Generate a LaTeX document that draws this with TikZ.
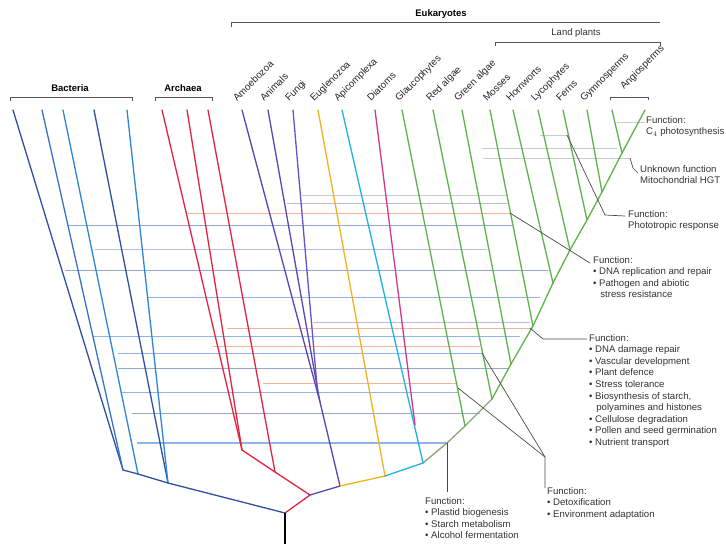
\documentclass[tikz,border=0pt]{standalone}
\usepackage{fontspec}
\setmainfont{Liberation Sans}
\definecolor{bA}{HTML}{2D4FA6}
\definecolor{bB}{HTML}{3573C8}
\definecolor{bC}{HTML}{2E86D6}
\definecolor{rd}{HTML}{E3233F}
\definecolor{pu}{HTML}{5A45B2}
\definecolor{puB}{HTML}{6A4FD0}
\definecolor{yl}{HTML}{F1B21F}
\definecolor{cy}{HTML}{1FB1E5}
\definecolor{mg}{HTML}{D2348E}
\definecolor{gr}{HTML}{5BB447}
\definecolor{grg}{HTML}{86A57A}
\definecolor{hsal}{HTML}{F4B49A}
\definecolor{hblu}{HTML}{8DB6E6}
\definecolor{hgb}{HTML}{95A7CA}
\definecolor{hlav}{HTML}{BDB8E6}
\definecolor{hgr}{HTML}{C9CCCF}
\definecolor{ptrc}{HTML}{4A4A4A}
\definecolor{txt}{HTML}{333333}
\definecolor{brkc}{HTML}{555555}
\begin{document}
\begin{tikzpicture}[x=1pt,y=-1pt,
  br/.style={line width=1.3pt, line cap=round},
  hgt/.style={line width=0.8pt},
  ptr/.style={draw=ptrc, line width=0.7pt},
  brk/.style={draw=brkc, line width=0.9pt},
  grp/.style={font=\bfseries\fontsize{9.5}{11}\selectfont, text=black, inner sep=0pt},
  grpn/.style={font=\fontsize{9.5}{11}\selectfont, text=txt, inner sep=0pt},
  tax/.style={font=\fontsize{9.8}{11}\selectfont, text=black!85, rotate=45, anchor=base west, inner sep=0pt},
  fn/.style={font=\fontsize{9.6}{11.6}\selectfont, align=left, anchor=north west, inner sep=0pt, text=txt}]
\useasboundingbox (0,0) rectangle (726,544);
\fill[white] (0,0) rectangle (726,544);

% ---------- horizontal transfer lines ----------
\foreach \n/\y/\xa/\xb/\c in {
  a/148/482/617/hgr, b/158/483/630/hgr, c/135/540/567/hgr, d/122/617/645/hgr,
  e/195/302/507/hgr, f/203/287/507/hlav, g/213/188/510/hsal, h/225/68/512/hgb,
  i/249/95/487/hlav, j/270/65/548/hgb, k/297/148/540/hblu, l/322/313/530/hlav,
  m/328/227/530/hsal, n/336/93/520/hblu, o/346/213/480/hsal, p/353/118/482/hblu,
  q/368/118/508/hgb, r/383/263/458/hsal, s/392/122/458/hblu, t/413/132/480/hgb}{
  \coordinate (h\n a) at (\xa,\y);
  \coordinate (h\n b) at (\xb,\y);
  \draw[hgt,\c] (h\n a) -- (h\n b);
}
\coordinate (hua) at (137,443);
\coordinate (hub) at (447,443);
\draw[line width=1.1pt,hblu] (hua) -- (hub);

% ---------- tips ----------
\foreach \n/\x in {B1/13,B2/42,B3/63,B4/94,B5/127,R1/162,R2/187,R3/208,
  Amo/242,Ani/268,Fun/293,Eug/318,Api/342,Dia/375,Gla/402,Red/433,Gre/462,
  Mos/490,Hor/513,Lyc/538,Fer/563,Gym/587,Ang/612,Top/645}{
  \coordinate (t\n) at (\x,110);
}
% ---------- junctions ----------
\coordinate (jb1) at (123,470);
\coordinate (jb2) at (138,474);
\coordinate (jb3) at (168,483);
\coordinate (root) at (285,513);
\coordinate (rootb) at (285,544);
\coordinate (jr1) at (242,450);
\coordinate (jr2) at (275,472);
\coordinate (jr3) at (310,495);
\coordinate (jp1) at (317,386);
\coordinate (jp2) at (320,402);
\coordinate (je) at (340,486);
\coordinate (jy) at (385,476);
\coordinate (jdi) at (415,425);
\coordinate (jc) at (423,463);
\coordinate (jg0) at (447,443);
\coordinate (jgl) at (465,426);
\coordinate (jra) at (492,399);
\coordinate (jga) at (511,364);
\coordinate (jmo) at (533,326);
\coordinate (jho) at (553,283);
\coordinate (jly) at (570,250);
\coordinate (jfe) at (587,220);
\coordinate (jgy) at (602,192);
\coordinate (jan) at (622,153);

% ---------- bacteria ----------
\draw[br,bA] (tB1) -- (jb1);
\draw[br,bB] (tB2) -- (jb1);
\draw[br,bC] (tB3) -- (jb2);
\draw[br,bA] (tB4) -- (jb3);
\draw[br,bC] (tB5) -- (jb3);
\draw[br,bA] (jb1) -- (jb2) -- (jb3) -- (root);
% ---------- archaea ----------
\draw[br,rd] (tR1) -- (jr1);
\draw[br,rd] (tR2) -- (jr1);
\draw[br,rd] (tR3) -- (jr2);
\draw[br,rd] (jr1) -- (jr2) -- (jr3) -- (root);
% ---------- eukaryotes ----------
\draw[br,pu] (tAmo) -- (jp2);
\draw[br,pu] (tAni) -- (jp1);
\draw[br,puB] (tFun) -- (jp1);
\draw[br,pu] (jp1) -- (jp2) -- (je);
\draw[br,pu] (jr3) -- (je);
\draw[br,yl] (tEug) -- (jy);
\draw[br,yl] (je) -- (jy);
\draw[br,cy] (tApi) -- (jc);
\draw[br,mg] (tDia) -- (jdi);
\draw[br,cy] (jy) -- (jc);
\draw[br,grg] (jc) -- (jg0) -- (jgl) -- (jra);
\draw[br,gr] (jra) -- (jga) -- (jmo) -- (jho) -- (jly) -- (jfe) -- (jgy) -- (jan) -- (tTop);
\draw[br,gr] (tGla) -- (jgl);
\draw[br,gr] (tRed) -- (jra);
\draw[br,gr] (tGre) -- (jga);
\draw[br,gr] (tMos) -- (jmo);
\draw[br,gr] (tHor) -- (jho);
\draw[br,gr] (tLyc) -- (jly);
\draw[br,gr] (tFer) -- (jfe);
\draw[br,gr] (tGym) -- (jgy);
\draw[br,gr] (tAng) -- (jan);
% trunk
\draw[line width=2pt,black] (root) -- (rootb);

% ---------- brackets and group labels ----------
\draw[brk] (10,101) -- (10,97) -- (132,97) -- (132,101);
\draw[brk] (155,101) -- (155,97) -- (212,97) -- (212,101);
\draw[brk] (231,27) -- (231,22) -- (660,22);
\draw[brk] (495,46) -- (495,42) -- (660,42) -- (660,46);
\draw[brk] (610,100) -- (610,97) -- (648,97) -- (648,100);
\node[grp] (lBac) at (70,88) {Bacteria};
\node[grp] (lArc) at (183,88) {Archaea};
\node[grp] (lEuk) at (441,14) {Eukaryotes};
\node[grpn] (lLand) at (576,33) {Land plants};

% ---------- taxon labels ----------
\foreach \n/\x/\t in {Amo/237/Amoebozoa,Ani/264/Animals,Fun/289/Fungi,
  Eug/314/Euglenozoa,Api/338/Apicomplexa,Dia/371/Diatoms,Gla/399/Glaucophytes,
  Red/430/Red algae,Gre/458/Green algae,Mos/487/Mosses,Hor/510/Hornworts,
  Lyc/535/Lycophytes,Fer/560/Ferns,Gym/584/Gymnosperms}{
  \node[tax] (l\n) at (\x,102) {\t};
}
\node[tax] (lAng) at (624,90) {Angiosperms};

% ---------- function pointers ----------
\coordinate (pU1) at (630,158);
\coordinate (pU2) at (633,168);
\coordinate (pU3) at (638,173);
\draw[ptr] (pU1) -- (pU2) -- (pU3);
\coordinate (pP1) at (567,135);
\coordinate (pP2) at (605,215);
\coordinate (pP3) at (625,216);
\draw[ptr] (pP1) -- (pP2) -- (pP3);
\coordinate (pD1) at (510,213);
\coordinate (pD2) at (590,263);
\draw[ptr] (pD1) -- (pD2);
\coordinate (pV1) at (530,328);
\coordinate (pV2) at (543,339);
\coordinate (pV3) at (587,339);
\draw[ptr] (pV1) -- (pV2) -- (pV3);
\coordinate (pX1) at (482,353);
\coordinate (pX2) at (458,388);
\coordinate (pX3) at (545,457);
\coordinate (pX4) at (545,488);
\draw[ptr] (pX1) -- (pX3);
\draw[ptr] (pX2) -- (pX3) -- (pX4);
\coordinate (pS2) at (447,492);
\draw[ptr] (jg0) -- (pS2);

% ---------- function texts ----------
\node[fn] (fC4) at (646,116) {Function:\\C$_4$ photosynthesis};
\node[fn] (fMit) at (640,165) {Unknown function\\Mitochondrial HGT};
\node[fn] (fPho) at (628,210) {Function:\\Phototropic response};
\node[fn] (fDNA) at (593,256) {Function:\\• DNA replication and repair\\• Pathogen and abiotic\\\hspace*{0.75em}stress resistance};
\node[fn] (fBig) at (589,334) {Function:\\• DNA damage repair\\• Vascular development\\• Plant defence\\• Stress tolerance\\• Biosynthesis of starch,\\\hspace*{0.75em}polyamines and histones\\• Cellulose degradation\\• Pollen and seed germination\\• Nutrient transport};
\node[fn] (fDet) at (547,487) {Function:\\• Detoxification\\• Environment adaptation};
\node[fn] (fPla) at (425,497) {Function:\\• Plastid biogenesis\\• Starch metabolism\\• Alcohol fermentation};
\end{tikzpicture}
\end{document}
